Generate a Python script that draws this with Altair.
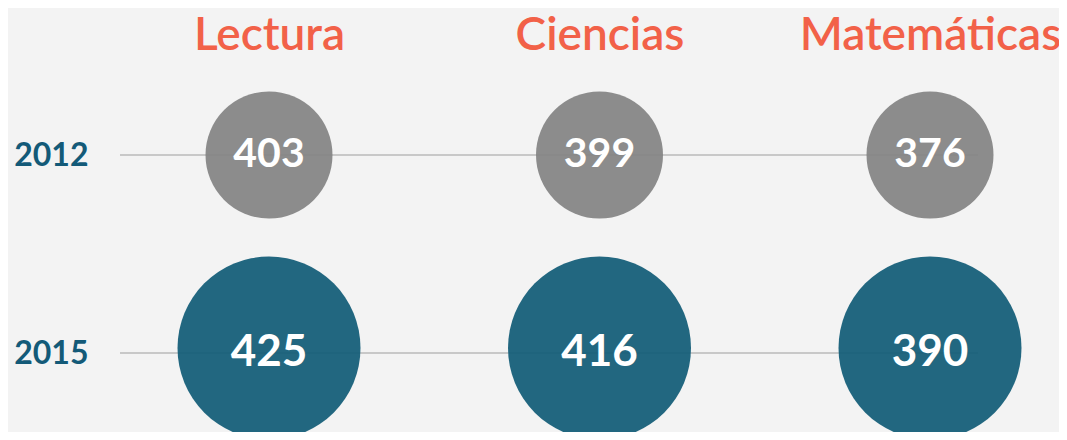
import altair as alt
import pandas as pd

subjects = ["Lectura", "Ciencias", "Matemáticas"]
years = ["2012", "2015"]
scores_2012 = [403, 399, 376]
scores_2015 = [425, 416, 390]

rows = []
for s, v in zip(subjects, scores_2012):
    rows.append({"materia": s, "anio": "2012", "puntaje": v})
for s, v in zip(subjects, scores_2015):
    rows.append({"materia": s, "anio": "2015", "puntaje": v})
df = pd.DataFrame(rows)

FONT = "Lato"

x_enc = alt.X(
    "materia:N",
    sort=subjects,
    scale=alt.Scale(type="point", padding=0, range=[151, 812]),
    axis=alt.Axis(
        orient="top", title=None, domain=False, ticks=False, tickSize=0,
        labelFont=FONT, labelFontSize=46, labelFontWeight=600,
        labelColor="#f26148", labelPadding=9, labelAngle=0, labelLimit=500,
    ),
)
y_enc = alt.Y(
    "anio:N",
    sort=years,
    scale=alt.Scale(type="point", padding=0, range=[87, 285]),
    axis=alt.Axis(
        orient="left", title=None, domain=False, ticks=False, tickSize=0,
        labelFont=FONT, labelFontSize=32, labelFontWeight="bold",
        labelColor="#135a78", labelPadding=30, grid=False,
    ),
)

base = alt.Chart(df)

rules = base.mark_rule(color="#c8c8c8", strokeWidth=2).encode(
    x=alt.value(2), x2=alt.value(860), y=y_enc
)

circ_2012 = base.transform_filter(alt.datum.anio == "2012").mark_circle(
    size=16129, color="#868686", opacity=0.95
).encode(x=x_enc, y=y_enc)

circ_2015 = base.transform_filter(alt.datum.anio == "2015").mark_circle(
    size=33489, color="#165f79", opacity=0.95, yOffset=-5
).encode(x=x_enc, y=y_enc)

txt_2012 = base.transform_filter(alt.datum.anio == "2012").mark_text(
    font=FONT, fontSize=41, fontWeight="bold", color="white", baseline="middle"
).encode(x=x_enc, y=y_enc, text="puntaje:Q")

txt_2015 = base.transform_filter(alt.datum.anio == "2015").mark_text(
    font=FONT, fontSize=44, fontWeight="bold", color="white", baseline="middle"
).encode(x=x_enc, y=y_enc, text="puntaje:Q")

chart = (
    alt.layer(rules, circ_2012, circ_2015, txt_2012, txt_2015)
    .properties(
        width=941, height=364,
        autosize=alt.AutoSizeParams(type="none"),
        padding={"left": 110, "top": 60, "right": 0, "bottom": 0},
        background="#f3f3f3",
    )
    .configure_view(stroke=None)
)

chart.save("out.html", embed_options={"renderer": "svg", "actions": False})
